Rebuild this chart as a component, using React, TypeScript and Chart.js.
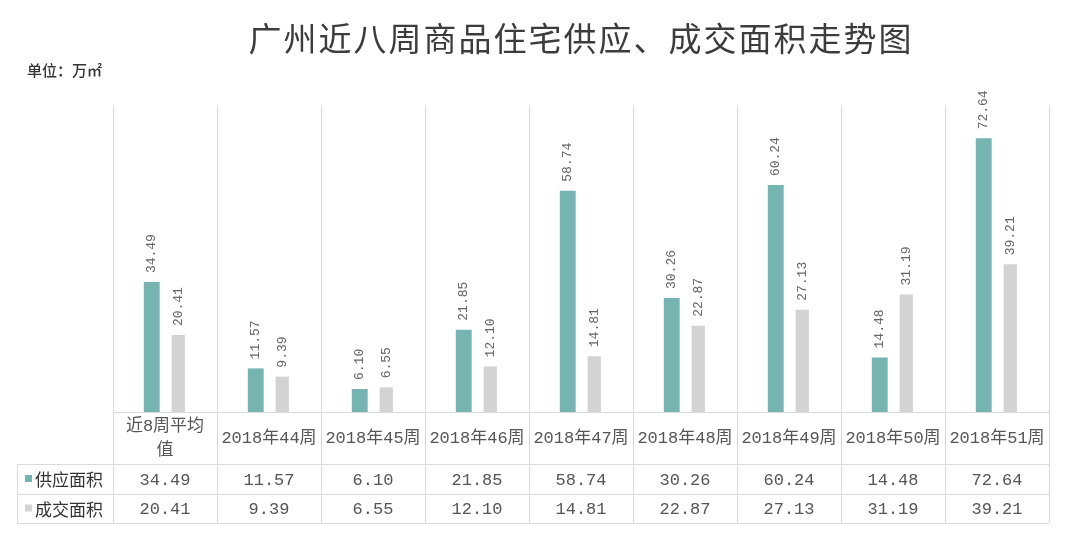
import React, { useEffect, useRef } from "react";
import { Chart, registerables } from "chart.js";

Chart.register(...registerables);

const chartTitle = "广州近八周商品住宅供应、成交面积走势图";
const unitLabel = "单位：万㎡";
const categoryLabels: string[][] = [
  ["近8周平均", "值"],
  ["2018年44周"],
  ["2018年45周"],
  ["2018年46周"],
  ["2018年47周"],
  ["2018年48周"],
  ["2018年49周"],
  ["2018年50周"],
  ["2018年51周"],
];
const seriesNames = ["供应面积", "成交面积"];
const supplyValues = [34.49, 11.57, 6.1, 21.85, 58.74, 30.26, 60.24, 14.48, 72.64];
const dealValues = [20.41, 9.39, 6.55, 12.1, 14.81, 22.87, 27.13, 31.19, 39.21];

const TEAL = "#76b4b2";
const GRAY = "#d3d3d3";
const LINE = "#dadada";
const TEXT = "#555555";
const MONO = '"Liberation Mono", "Noto Sans CJK SC", monospace';

const tablePlugin = {
  id: "tablePlugin",
  afterDatasetsDraw(chart: any) {
    const ctx = chart.ctx as CanvasRenderingContext2D;
    ctx.save();
    ctx.fillStyle = "#666666";
    ctx.font = `13px ${MONO}`;
    ctx.textAlign = "left";
    ctx.textBaseline = "middle";
    chart.data.datasets.forEach((ds: any, di: number) => {
      const meta = chart.getDatasetMeta(di);
      meta.data.forEach((bar: any, i: number) => {
        const txt = (ds.data[i] as number).toFixed(2);
        ctx.save();
        ctx.translate(bar.x, bar.y - 9);
        ctx.rotate(-Math.PI / 2);
        ctx.fillText(txt, 0, 0);
        ctx.restore();
      });
    });
    ctx.restore();
  },
  afterDraw(chart: any) {
    const ctx = chart.ctx as CanvasRenderingContext2D;
    const xs = chart.scales.x;
    const area = chart.chartArea;
    const n = categoryLabels.length;
    const w = (xs.getPixelForValue(n - 1) - xs.getPixelForValue(0)) / (n - 1);
    const left = xs.getPixelForValue(0) - w / 2;
    const right = left + w * n;
    const axisY = area.bottom;
    const row1 = axisY + 52;
    const row2 = row1 + 30;
    const bottom = row2 + 29;
    const legendLeft = 17;

    ctx.save();
    ctx.strokeStyle = LINE;
    ctx.lineWidth = 1;
    ctx.beginPath();
    for (let i = 0; i <= n; i++) {
      const x = Math.round(left + i * w) + 0.5;
      ctx.moveTo(x, area.top);
      ctx.lineTo(x, bottom);
    }
    ctx.moveTo(Math.round(left), Math.round(axisY) + 0.5);
    ctx.lineTo(Math.round(right), Math.round(axisY) + 0.5);
    [row1, row2, bottom].forEach((y) => {
      ctx.moveTo(legendLeft, Math.round(y) + 0.5);
      ctx.lineTo(Math.round(right), Math.round(y) + 0.5);
    });
    ctx.moveTo(legendLeft + 0.5, Math.round(row1));
    ctx.lineTo(legendLeft + 0.5, Math.round(bottom));
    ctx.stroke();

    ctx.fillStyle = TEXT;
    ctx.textAlign = "center";
    ctx.textBaseline = "middle";
    ctx.font = `17px ${MONO}`;
    const headerMid = (axisY + row1) / 2;
    categoryLabels.forEach((lines, i) => {
      const cx = left + w * (i + 0.5);
      const lh = 24;
      const startY = headerMid - ((lines.length - 1) * lh) / 2;
      lines.forEach((ln, k) => ctx.fillText(ln, cx, startY + k * lh));
    });

    const rows = [supplyValues, dealValues];
    const rowMids = [(row1 + row2) / 2, (row2 + bottom) / 2];
    rows.forEach((vals, r) => {
      vals.forEach((v, i) => {
        const cx = left + w * (i + 0.5);
        ctx.fillText(v.toFixed(2), cx, rowMids[r] + 1);
      });
    });

    ctx.textAlign = "left";
    ctx.font = '17px "Noto Sans CJK SC", sans-serif';
    const colors = [TEAL, GRAY];
    seriesNames.forEach((name, r) => {
      ctx.fillStyle = colors[r];
      ctx.fillRect(25, rowMids[r] - 4, 7, 7);
      ctx.fillStyle = "#333333";
      ctx.fillText(name, 35, rowMids[r] + 1);
    });

    ctx.fillStyle = "#3c3c3c";
    ctx.textAlign = "center";
    ctx.font = '33px "Noto Sans CJK SC", sans-serif';
    (ctx as any).letterSpacing = "2px";
    ctx.fillText(chartTitle, 581, 38);
    (ctx as any).letterSpacing = "0px";

    ctx.textAlign = "left";
    ctx.fillStyle = "#333333";
    ctx.font = '500 15px "Noto Sans CJK SC", sans-serif';
    ctx.fillText(unitLabel, 27, 70);
    ctx.restore();
  },
};

export default function App() {
  const ref = useRef<HTMLCanvasElement | null>(null);
  useEffect(() => {
    document.body.style.margin = "0";
    if (!ref.current) return;
    const chart = new Chart(ref.current, {
      type: "bar",
      data: {
        labels: categoryLabels,
        datasets: [
          {
            label: seriesNames[0],
            data: supplyValues,
            backgroundColor: TEAL,
            categoryPercentage: 0.51,
            barPercentage: 0.6,
          },
          {
            label: seriesNames[1],
            data: dealValues,
            backgroundColor: GRAY,
            categoryPercentage: 0.51,
            barPercentage: 0.5,
          },
        ],
      },
      options: {
        animation: false,
        responsive: true,
        maintainAspectRatio: false,
        layout: { padding: { left: 113, right: 31, top: 105, bottom: 136 } },
        plugins: {
          legend: { display: false },
          title: { display: false },
          tooltip: { enabled: false },
        },
        scales: {
          x: { display: false, grid: { display: false } },
          y: { display: false, min: 0, max: 81.5 },
        },
      },
      plugins: [tablePlugin],
    });
    return () => chart.destroy();
  }, []);
  return (
    <div style={{ width: 1080, height: 548, position: "relative", background: "#fff" }}>
      <canvas ref={ref} />
    </div>
  );
}
